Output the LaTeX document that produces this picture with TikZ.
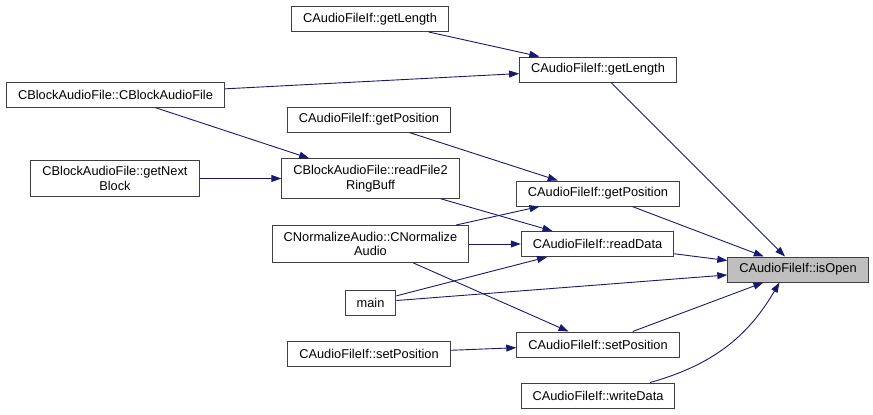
\documentclass[tikz,border=0pt]{standalone}
\usepackage{fontspec}
\setmainfont{Liberation Sans}
\usetikzlibrary{arrows.meta}
\definecolor{edgeblue}{RGB}{25,25,112}
\definecolor{boxgrey}{RGB}{64,64,64}
\definecolor{rootfill}{RGB}{191,191,191}
\tikzset{
  fnbox/.style ={rectangle, draw=boxgrey, fill=white, line width=1pt, inner xsep=11.5pt, inner ysep=6.5pt,
                align=center, minimum height=25pt, font=\fontsize{12.8}{14.5}\selectfont},
  rootbox/.style ={fnbox, fill=rootfill},
  call/.style ={-{Triangle[length=10pt,width=7pt]}, line width=0.9pt, draw=edgeblue},
}

\begin{document}
\begin{tikzpicture}[x=1pt,y=-1pt]
\useasboundingbox (0,0) rectangle (873,415);
\node[fnbox] (gl1) at (370,19) {CAudioFileIf::getLength};
\node[fnbox] (gl2) at (598,69.5) {CAudioFileIf::getLength};
\node[fnbox] (cbaf) at (115.5,94.5) {CBlockAudioFile::CBlockAudioFile};
\node[fnbox] (gp1) at (369,119.5) {CAudioFileIf::getPosition};
\node[fnbox] (gnb) at (115,178.5) {CBlockAudioFile::getNext\\ Block};
\node[fnbox] (rf2) at (370.5,178.5) {CBlockAudioFile::readFile2\\ RingBuff};
\node[fnbox] (gp2) at (598,193.5) {CAudioFileIf::getPosition};
\node[fnbox] (cna) at (370.5,244) {CNormalizeAudio::CNormalize\\ Audio};
\node[fnbox] (rd) at (597.5,244) {CAudioFileIf::readData};
\node[rootbox] (isopen) at (798,269.5) {CAudioFileIf::isOpen};
\node[fnbox] (main) at (370.5,302.5) {main};
\node[fnbox] (sp2) at (598,344.5) {CAudioFileIf::setPosition};
\node[fnbox] (sp1) at (369,353.5) {CAudioFileIf::setPosition};
\node[fnbox] (wd) at (598,395.5) {CAudioFileIf::writeData};
\foreach \x/\y in {gl1/gl2,cbaf/gl2,cbaf/rf2,gnb/rf2,gp1/gp2,rf2/rd,cna/gp2,cna/rd,cna/sp2,
  main/rd,main/isopen,sp1/sp2,gl2/isopen,gp2/isopen,rd/isopen,sp2/isopen} \draw[call] (\x) -- (\y);
\draw[call] (wd.14) to[bend right=22] (isopen.-145);
\end{tikzpicture}
\end{document}
